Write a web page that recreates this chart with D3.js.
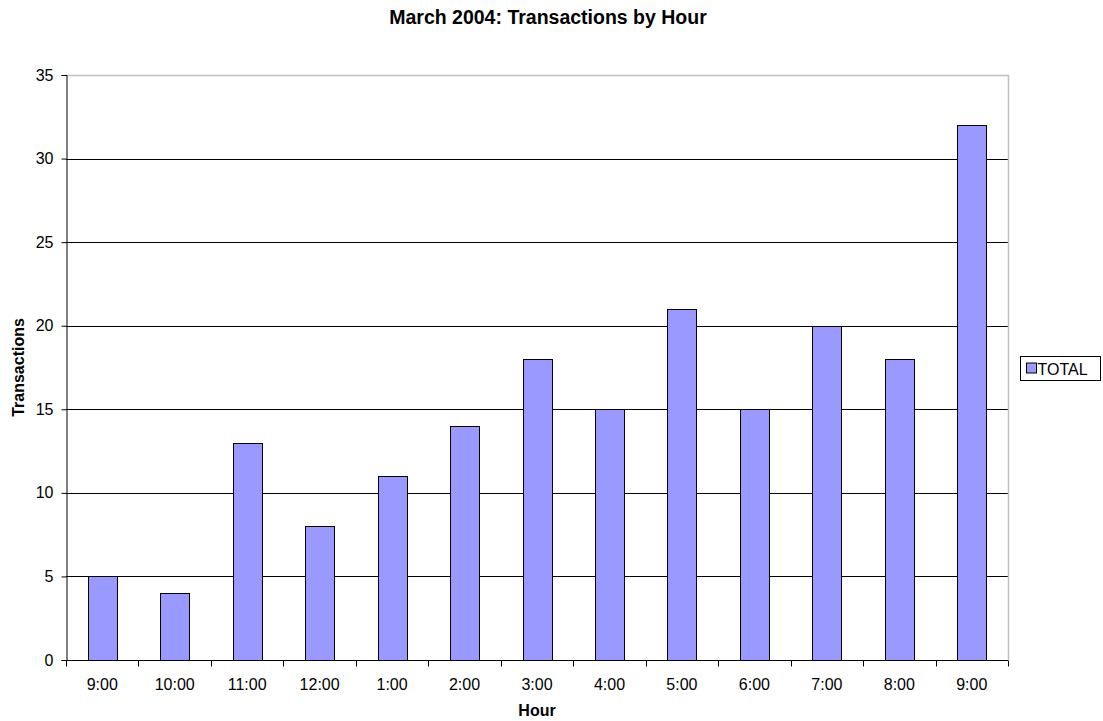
<!DOCTYPE html>
<html>
<head>
<meta charset="utf-8">
<script src="https://cdn.jsdelivr.net/npm/d3@7"></script>
<style>
  html, body { margin: 0; padding: 0; background: #fff; }
  svg { display: block; font-family: "Liberation Sans", Arial, sans-serif; }
</style>
</head>
<body>
<script>
const categories = ["9:00","10:00","11:00","12:00","1:00","2:00","3:00","4:00","5:00","6:00","7:00","8:00","9:00"];
const totals = [5, 4, 13, 8, 11, 14, 18, 15, 21, 15, 20, 18, 32];
const yTicks = [0, 5, 10, 15, 20, 25, 30, 35];
const seriesName = "TOTAL";

const W = 1103, H = 721;
const plot = { left: 66, right: 1008, top: 75, bottom: 660 };
const FONT = "Liberation Sans, Arial, sans-serif";

const svg = d3.select("body").append("svg").attr("width", W).attr("height", H);

const idx = categories.map((d, i) => i);
const x = d3.scaleBand().domain(idx).range([plot.left, plot.right]).paddingInner(0).paddingOuter(0);
const y = d3.scaleLinear().domain([0, 35]).range([plot.bottom, plot.top]);

// gridlines
svg.append("g").selectAll("line").data(yTicks.filter(t => t > 0 && t < 35)).join("line")
  .attr("x1", plot.left).attr("x2", plot.right)
  .attr("y1", d => Math.round(y(d)) + 0.5).attr("y2", d => Math.round(y(d)) + 0.5)
  .attr("stroke", "#000").attr("stroke-width", 1);

// plot border top/right (gray)
svg.append("path")
  .attr("d", `M${plot.left},${plot.top + 0.5}H${plot.right + 0.5}V${plot.bottom}`)
  .attr("fill", "none").attr("stroke", "#c0c0c0").attr("stroke-width", 1.5);

// bars
const bw = x.bandwidth() / 2.5;
svg.append("g").selectAll("rect").data(totals).join("rect")
  .attr("x", (d, i) => Math.round(x(i) + (x.bandwidth() - bw) / 2) + 0.5)
  .attr("y", d => Math.round(y(d)) + 0.5)
  .attr("width", Math.round(bw))
  .attr("height", d => Math.round(y(0)) - Math.round(y(d)))
  .attr("fill", "#9999ff").attr("stroke", "#000").attr("stroke-width", 1);

// y axis
const yAxis = d3.axisLeft(y).tickValues(yTicks).tickSize(5).tickPadding(8).tickFormat(d3.format("d"));
const gy = svg.append("g").attr("transform", `translate(${plot.left + 0.5},0)`).call(yAxis);
gy.attr("font-family", FONT).attr("font-size", 16);
gy.select(".domain").attr("stroke", "#000");
gy.selectAll(".tick line").attr("stroke", "#000");
gy.selectAll("text").attr("fill", "#000");

// x axis
const xAxis = d3.axisBottom(x).tickSize(0).tickPadding(0).tickFormat(i => categories[i]);
const gx = svg.append("g").attr("transform", `translate(0,${plot.bottom + 0.5})`).call(xAxis);
gx.attr("font-family", FONT).attr("font-size", 16);
gx.select(".domain").attr("d", `M${plot.left},0H${plot.right}`).attr("stroke", "#000");
gx.selectAll("text").attr("fill", "#000").attr("dy", null).attr("y", 29);
// category separator ticks
const sepPositions = d3.range(categories.length + 1).map(i => plot.left + i * x.step());
gx.append("g").selectAll("line").data(sepPositions).join("line")
  .attr("x1", d => Math.round(d) + 0.5).attr("x2", d => Math.round(d) + 0.5)
  .attr("y1", 0).attr("y2", 6).attr("stroke", "#000");

// title
svg.append("text").attr("x", 548).attr("y", 24).attr("text-anchor", "middle")
  .attr("font-family", FONT).attr("font-size", 19.5).attr("font-weight", "bold")
  .text("March 2004: Transactions by Hour");

// axis titles
svg.append("text").attr("x", (plot.left + plot.right) / 2).attr("y", 716).attr("text-anchor", "middle")
  .attr("font-family", FONT).attr("font-size", 16).attr("font-weight", "bold").text("Hour");
svg.append("text").attr("transform", `translate(23.5,${(plot.top + plot.bottom) / 2}) rotate(-90)`)
  .attr("text-anchor", "middle").attr("font-family", FONT).attr("font-size", 16)
  .attr("font-weight", "bold").text("Transactions");

// legend
const lg = svg.append("g").attr("transform", "translate(1020.5,356.5)");
lg.append("rect").attr("width", 80).attr("height", 24).attr("fill", "#fff").attr("stroke", "#000");
lg.append("rect").attr("x", 6).attr("y", 6.5).attr("width", 10).attr("height", 10)
  .attr("fill", "#9999ff").attr("stroke", "#000");
lg.append("text").attr("x", 17).attr("y", 18).attr("font-family", FONT).attr("font-size", 16).text(seriesName);
</script>
</body>
</html>
